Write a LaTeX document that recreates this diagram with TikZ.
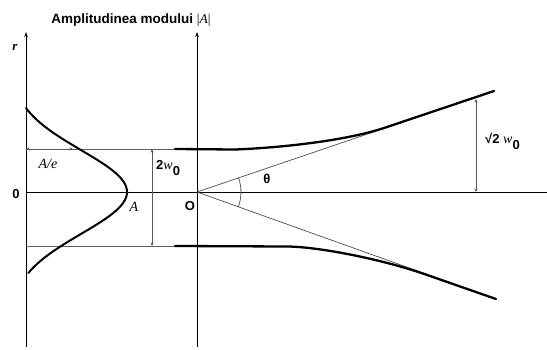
\documentclass[tikz,border=0pt]{standalone}
\usepackage{fontspec}
\setmainfont{Liberation Serif}
\setsansfont{Liberation Sans}
\usetikzlibrary{arrows.meta}
\begin{document}
\begin{tikzpicture}[x=1pt,y=-1pt,
  axisline/.style={black, line width=0.9pt, -{Stealth[length=5pt,width=3.5pt]}},
  guide/.style={gray!75!black, line width=0.9pt},
  asym/.style={black!70, line width=0.7pt},
  beam/.style={black, line width=2.3pt, line cap=round},
  dim/.style={gray!70!black, line width=0.8pt, {Stealth[length=3.5pt,width=3pt]}-{Stealth[length=3.5pt,width=3pt]}},
  lbl/.style={inner sep=0pt, font=\sffamily\bfseries\fontsize{13}{14}\selectfont},
  ilbl/.style={inner sep=0pt, font=\rmfamily\itshape\fontsize{14}{15}\selectfont}
]
\useasboundingbox (0,0) rectangle (547,349);
% key coordinates
\coordinate (Lbot) at (26,347);
\coordinate (Ltop) at (26,32);
\coordinate (Mbot) at (197,347);
\coordinate (Mtop) at (197,32);
\coordinate (O) at (197,192);
\coordinate (H0) at (26,192);
\coordinate (Hend) at (547,192);
\coordinate (U0) at (26,149);
\coordinate (Ub) at (175,149);
\coordinate (D0) at (26,246);
\coordinate (Db) at (175,246);
\coordinate (UE) at (494,91);
\coordinate (DE) at (496,299);
\coordinate (AeEnd) at (73,149);
\coordinate (Wtop) at (152,149);
\coordinate (Wbot) at (152,246);
\coordinate (Rtop) at (476,99);
\coordinate (Rbot) at (476,192);
% axes
\draw[axisline] (Lbot) -- (Ltop);
\draw[axisline] (Mbot) -- (Mtop);
\draw[black, line width=0.8pt] (H0) -- (Hend);
% guide lines
\draw[guide] (U0) -- (Ub);
\draw[guide] (D0) -- (Db);
% asymptotes
\draw[asym] (O) -- (UE);
\draw[asym] (O) -- (DE);
% beam
\draw[beam] (Ub) -- (235,149.5) .. controls (275,148) and (345,141.5) .. (387,127) -- (UE);
\draw[beam] (Db) -- (288,246.5) .. controls (320,247) and (385,259.7) .. (430,276) -- (DE);
% angle arc
\draw[gray!70!black, line width=0.8pt] (238.6,177.8) arc[start angle=-18.8, end angle=19.8, radius=44];
% gaussian
\draw[black, line width=2pt, line cap=round] plot[domain=-84:81, samples=90, smooth] ({26 + 116.5*exp(-(\x*\x)/3500) - 15.5}, {192+\x});
% dimension arrows
\draw[dim] (U0) -- (AeEnd);
\draw[dim] (Wtop) -- (Wbot);
\draw[dim] (Rtop) -- (Rbot);
% labels
\node[inner sep=0pt, anchor=center] (title) at (131,20) {\sffamily\bfseries\fontsize{13.5}{14}\selectfont Amplitudinea modului {\rmfamily\mdseries |\textit{A}|}};
\node[inner sep=0pt, font=\rmfamily\bfseries\itshape\fontsize{13}{14}\selectfont] (r) at (15,47) {r};
\node[lbl] (zero) at (16,194) {0};
\node[lbl] (Olbl) at (190,206) {O};
\node[ilbl] (Ae) at (48,164) {A/e};
\node[ilbl] (Albl) at (134,207) {A};
\node[lbl] (theta) at (267,179) {θ};
\node[lbl, anchor=west] (twow) at (156,168) {2{\rmfamily\mdseries\itshape\fontsize{14}{15}\selectfont w}\raisebox{-6pt}{0}};
\node[lbl, anchor=west] (sqw) at (485,141) {√2 {\rmfamily\mdseries\itshape\fontsize{14}{15}\selectfont w}\raisebox{-6pt}{0}};
\end{tikzpicture}
\end{document}
